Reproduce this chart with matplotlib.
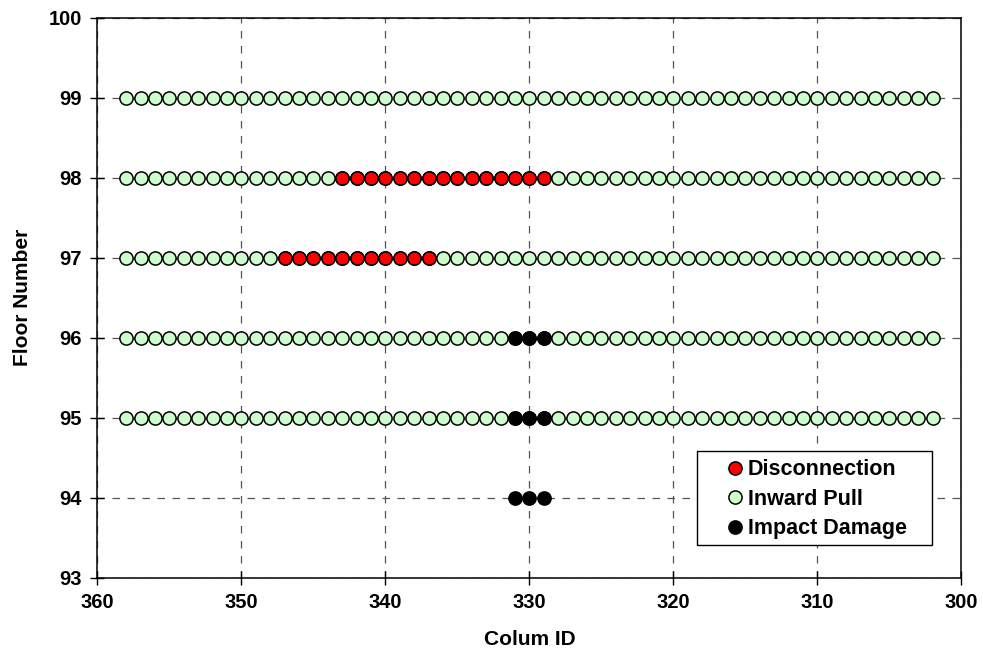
import matplotlib.pyplot as plt
from matplotlib.patches import Rectangle

plt.rcParams['font.family'] = ['Liberation Sans', 'DejaVu Sans']
plt.rcParams['font.weight'] = 'bold'

# column ids run from 358 down to 302
columns = list(range(358, 301, -1))
pull_floors = [95, 96, 97, 98, 99]

disc_98 = list(range(343, 328, -1))
disc_97 = list(range(347, 336, -1))
impact_cols = [331, 330, 329]
impact_floors = [94, 95, 96]

pull_x, pull_y = [], []
for f in pull_floors:
    for c in columns:
        pull_x.append(c)
        pull_y.append(f)

disc_x = disc_98 + disc_97
disc_y = [98] * len(disc_98) + [97] * len(disc_97)

imp_x, imp_y = [], []
for f in impact_floors:
    for c in impact_cols:
        imp_x.append(c)
        imp_y.append(f)

fig = plt.figure(figsize=(9.83, 6.58), dpi=100)
ax = fig.add_axes([0.099, 0.122, 0.879, 0.851])

ms = 9.5
ax.plot(pull_x, pull_y, 'o', ms=ms, mfc='#ccffcc', mec='black', mew=1.1,
        label='Inward Pull', zorder=3)
ax.plot(disc_x, disc_y, 'o', ms=ms, mfc='#ff0000', mec='black', mew=1.1,
        label='Disconnection', zorder=4)
ax.plot(imp_x, imp_y, 'o', ms=ms, mfc='black', mec='black', mew=1.1,
        label='Impact Damage', zorder=4)

ax.set_xlim(360, 300)
ax.set_ylim(93, 100)
ax.set_xticks(range(360, 299, -10))
ax.set_yticks(range(93, 101))
ax.grid(True, color='#555555', linestyle=(0, (6, 6)), linewidth=0.9)
ax.set_axisbelow(True)
ax.tick_params(direction='inout', length=10, width=1, labelsize=14.5, pad=6)
for s in ax.spines.values():
    s.set_linewidth(1.1)

ax.set_xlabel('Colum ID', fontsize=15, fontweight='bold', labelpad=13)
ax.set_ylabel('Floor Number', fontsize=15, fontweight='bold', labelpad=12)

# legend frame drawn separately, wider than its content
frame = Rectangle((0.694, 0.059), 0.272, 0.168, transform=ax.transAxes,
                  facecolor='white', edgecolor='black', linewidth=1, zorder=5)
ax.add_patch(frame)

h, l = ax.get_legend_handles_labels()
order = [1, 0, 2]
leg = ax.legend([h[i] for i in order], [l[i] for i in order], loc='center',
                bbox_to_anchor=(0.832, 0.140), frameon=False, fontsize=15.5,
                handlelength=0.9, handletextpad=0.15, borderpad=0,
                labelspacing=0.4, borderaxespad=0)
leg.set_zorder(6)

fig.savefig('out.png', dpi=100)
